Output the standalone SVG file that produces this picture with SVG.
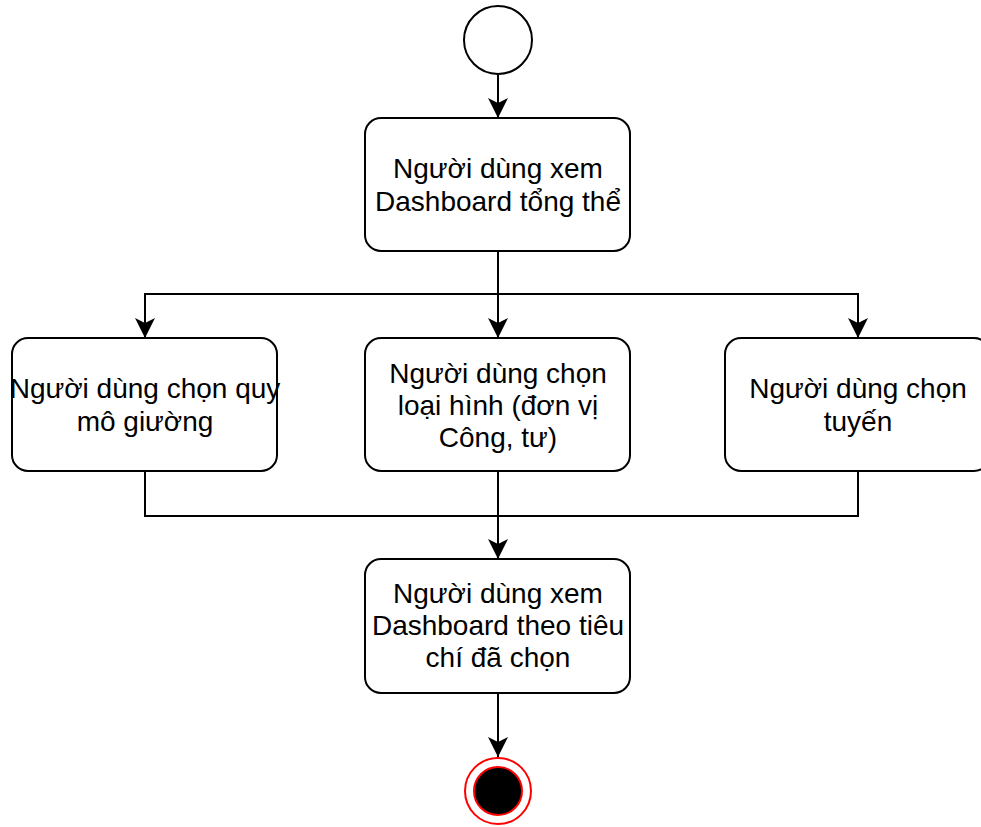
<svg xmlns="http://www.w3.org/2000/svg" width="981" height="827" viewBox="0 0 981 827">
  <style>
    .box { fill: #ffffff; stroke: #000000; stroke-width: 2; }
    .lbl { font-family: "Liberation Sans", Arial, sans-serif; font-size: 28px; fill: #000000; text-anchor: middle; }
    .edge { fill: none; stroke: #000000; stroke-width: 2; }
  </style>
  <defs>
    <marker id="arrow" markerUnits="userSpaceOnUse" markerWidth="20" markerHeight="20" viewBox="0 0 20 20" refX="20" refY="10" orient="auto">
      <path d="M0,0 L20,10 L0,20 L5,10 Z" fill="#000000"/>
    </marker>
  </defs>
  <rect width="981" height="827" fill="#ffffff"/>

  <g id="connectors">
    <path class="edge" d="M498,75 V118" marker-end="url(#arrow)"/>
    <path class="edge" d="M498,251 V338" marker-end="url(#arrow)"/>
    <path class="edge" d="M498,294 H145 V338" marker-end="url(#arrow)"/>
    <path class="edge" d="M498,294 H858 V338" marker-end="url(#arrow)"/>
    <path class="edge" d="M145,471 V516 H498"/>
    <path class="edge" d="M858,471 V516 H498"/>
    <path class="edge" d="M498,471 V559" marker-end="url(#arrow)"/>
    <path class="edge" d="M498,693 V757" marker-end="url(#arrow)"/>
  </g>

  <g id="start">
    <circle cx="498" cy="40" r="34" fill="#ffffff" stroke="#000000" stroke-width="2"/>
  </g>

  <g id="view-overall">
    <rect class="box" x="365" y="118" width="265" height="133" rx="16" ry="16"/>
    <text class="lbl" x="498" y="178">Người dùng xem</text>
    <text class="lbl" x="498" y="211">Dashboard tổng thể</text>
  </g>

  <g id="select-beds">
    <rect class="box" x="12" y="338" width="265" height="133" rx="16" ry="16"/>
    <text class="lbl" x="145" y="398">Người dùng chọn quy</text>
    <text class="lbl" x="145" y="431">mô giường</text>
  </g>

  <g id="select-type">
    <rect class="box" x="365" y="338" width="265" height="133" rx="16" ry="16"/>
    <text class="lbl" x="498" y="383">Người dùng chọn</text>
    <text class="lbl" x="498" y="415">loại hình (đơn vị</text>
    <text class="lbl" x="498" y="447">Công, tư)</text>
  </g>

  <g id="select-level">
    <rect class="box" x="725" y="338" width="265" height="133" rx="16" ry="16"/>
    <text class="lbl" x="858" y="398">Người dùng chọn</text>
    <text class="lbl" x="858" y="431">tuyến</text>
  </g>

  <g id="view-filtered">
    <rect class="box" x="365" y="559" width="265" height="134" rx="16" ry="16"/>
    <text class="lbl" x="498" y="603">Người dùng xem</text>
    <text class="lbl" x="498" y="635">Dashboard theo tiêu</text>
    <text class="lbl" x="498" y="667">chí đã chọn</text>
  </g>

  <g id="end">
    <circle cx="498" cy="791" r="33" fill="#ffffff" stroke="#ff0000" stroke-width="2"/>
    <circle cx="498" cy="791" r="24" fill="#000000" stroke="#ff0000" stroke-width="2"/>
  </g>
</svg>
